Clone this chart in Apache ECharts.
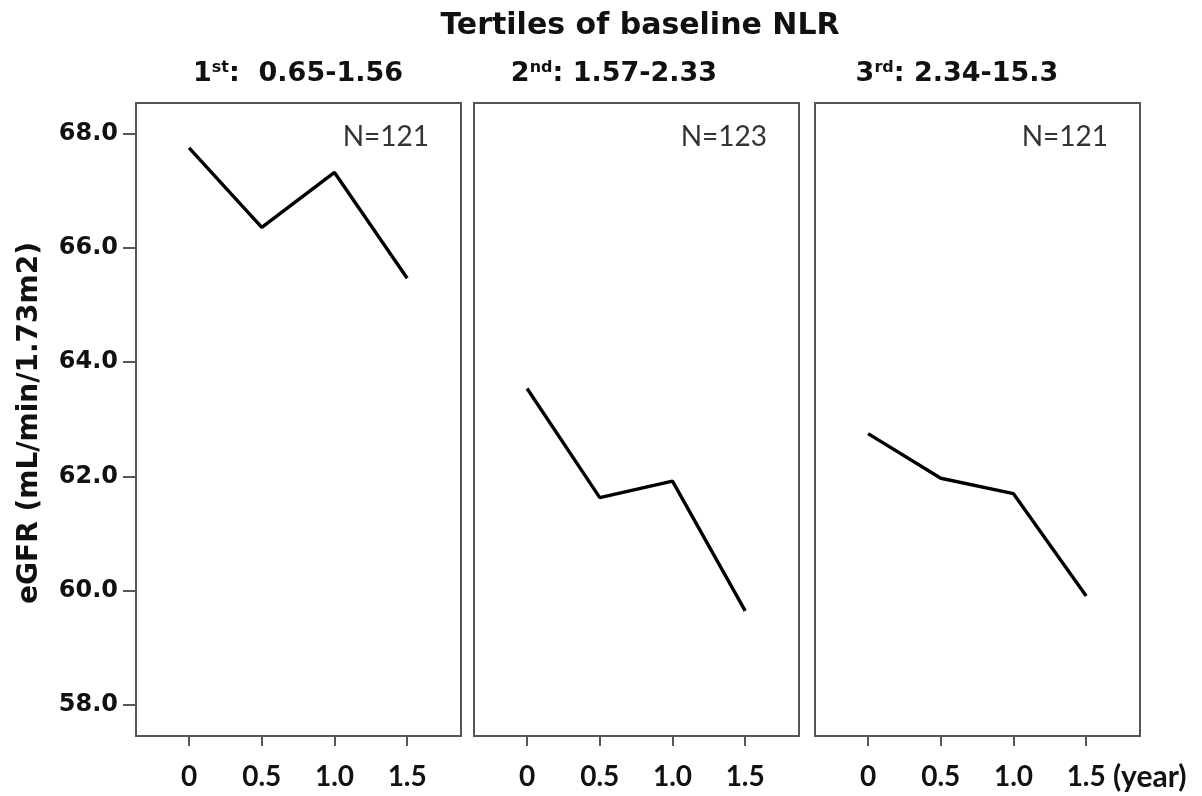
<!DOCTYPE html>
<html>
<head>
<meta charset="utf-8">
<script src="https://cdn.jsdelivr.net/npm/echarts@6/dist/echarts.min.js"></script>
<style>
html,body{margin:0;padding:0;background:#fff;}
#chart{width:1202px;height:796px;}
</style>
</head>
<body>
<div id="chart"></div>
<script>
var years = [0, 0.5, 1.0, 1.5];
var xTicks = [0, 0.5, 1.0, 1.5];
var yTicks = [58, 60, 62, 64, 66, 68];
var tertile1 = [67.75, 66.36, 67.32, 65.47];
var tertile2 = [63.54, 61.63, 61.92, 59.65];
var tertile3 = [62.75, 61.97, 61.70, 59.91];
var panelTitles = [['1', 'st', ':  0.65-1.56'], ['2', 'nd', ': 1.57-2.33'], ['3', 'rd', ': 2.34-15.3']];
var nLabels = ['N=121', 'N=123', 'N=121'];
var mainTitle = 'Tertiles of baseline NLR';
var yName = 'eGFR (mL/min/1.73m2)';
var xUnit = '(year)';

var seriesData = [tertile1, tertile2, tertile3];
var gridLefts = [136, 474, 815];
var gridWidth = 325;
var gridTop = 103;
var gridHeight = 633;
var titleCenters = [298, 614, 957];

var chart = echarts.init(document.getElementById('chart'));
var grids = [], xAxes = [], yAxes = [], series = [], graphics = [];

graphics.push({
  type: 'text', x: 640, y: 26,
  style: {text: mainTitle, fontFamily: 'DejaVu Sans', fontWeight: 'bold', fontSize: 30, fill: '#111',
    align: 'center', verticalAlign: 'middle'}
});

for (var i = 0; i < 3; i++) {
  grids.push({left: gridLefts[i], top: gridTop, width: gridWidth, height: gridHeight,
    show: true, borderColor: '#555', borderWidth: 2, backgroundColor: '#fff'});
  xAxes.push({
    type: 'value', gridIndex: i, min: -0.365, max: 1.87,
    splitLine: {show: false}, axisLine: {show: false, onZero: false},
    axisTick: {show: true, customValues: xTicks, length: 10, lineStyle: {color: '#555', width: 2}},
    axisLabel: {show: true, customValues: xTicks, margin: 27, fontFamily: 'Lato', fontWeight: 'bold', fontSize: 28, color: '#111',
      formatter: function (v) { return v === 0 ? '0' : v.toFixed(1); }}
  });
  yAxes.push({
    type: 'value', gridIndex: i, min: 57.46, max: 68.535,
    splitLine: {show: false}, axisLine: {show: false, onZero: false},
    axisTick: {show: i === 0, customValues: yTicks, length: 13, lineStyle: {color: '#555', width: 2}},
    axisLabel: {show: i === 0, customValues: yTicks, margin: 18, fontFamily: 'DejaVu Sans', fontWeight: 'bold', fontSize: 24, color: '#111',
      formatter: function (v) { return v.toFixed(1); }}
  });
  var d = [];
  for (var k = 0; k < years.length; k++) d.push([years[k], seriesData[i][k]]);
  series.push({
    type: 'line', xAxisIndex: i, yAxisIndex: i, data: d,
    symbol: 'none', lineStyle: {color: '#000', width: 3.4}, silent: true, animation: false
  });
  var pt = panelTitles[i];
  graphics.push({
    type: 'text', x: titleCenters[i], y: 74,
    style: {text: '{b|' + pt[0] + '}{sup|' + pt[1] + '}{b|' + pt[2] + '}',
      align: 'center', verticalAlign: 'middle',
      rich: {
        b: {fontFamily: 'DejaVu Sans', fontWeight: 'bold', fontSize: 27, fill: '#111', color: '#111'},
        sup: {fontFamily: 'DejaVu Sans', fontWeight: 'bold', fontSize: 16, fill: '#111', color: '#111', verticalAlign: 'top', padding: [0, 0, 12, 0]}
      }}
  });
  graphics.push({
    type: 'text', x: gridLefts[i] + gridWidth - 32, y: 137,
    style: {text: nLabels[i], fontFamily: 'Lato', fontSize: 28, fill: '#333', align: 'right', verticalAlign: 'middle'}
  });
}

graphics.push({
  type: 'text', x: 1113, y: 777,
  style: {text: xUnit, fontFamily: 'Lato', fontWeight: 'bold', fontSize: 30, fill: '#111', align: 'left', verticalAlign: 'middle'}
});
graphics.push({
  type: 'text', x: 30, y: 423, rotation: Math.PI / 2,
  style: {text: yName, fontFamily: 'DejaVu Sans', fontWeight: 'bold', fontSize: 28, fill: '#111',
    align: 'center', verticalAlign: 'middle'}
});

chart.setOption({
  animation: false,
  backgroundColor: '#fff',
  grid: grids,
  xAxis: xAxes,
  yAxis: yAxes,
  series: series,
  graphic: graphics
});
</script>
</body>
</html>
